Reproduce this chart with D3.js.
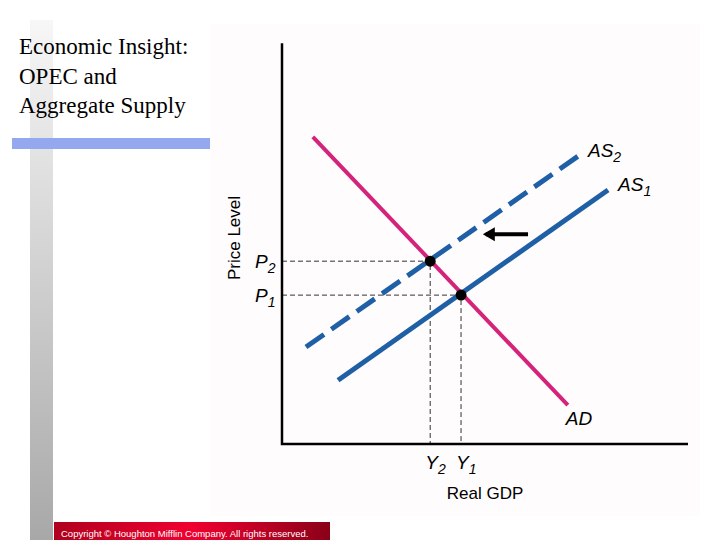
<!DOCTYPE html>
<html><head><meta charset="utf-8">
<script src="https://cdn.jsdelivr.net/npm/d3@7"></script>
<style>body{margin:0;background:#fff}</style>
</head><body>
<svg id="c" width="720" height="540"></svg>
<script>
// curves in chart units (0..100 on both axes)
var adLine = [[7.6, 75.1], [70.4, 9.5]];
var as1Line = [[13.8, 15.6], [80.3, 62.1]];
var as2Line = [[5.9, 23.7], [73.4, 70.7]];
var equilibria = [
  {name: "2", x: 36.5, y: 44.7},
  {name: "1", x: 44.1, y: 36.4}
];
var shiftArrow = [[60.6, 51.3], [50.2, 51.3]];
var titleLines = ["Economic Insight:", "OPEC and", "Aggregate Supply"];

var svg = d3.select("#c");
var defs = svg.append("defs");
var g1 = defs.append("linearGradient").attr("id", "gray").attr("x1", 0).attr("y1", 0).attr("x2", 0).attr("y2", 1);
g1.append("stop").attr("offset", 0).attr("stop-color", "#f7f7f7");
g1.append("stop").attr("offset", 1).attr("stop-color", "#a8a8a8");
var g2 = defs.append("linearGradient").attr("id", "red");
g2.append("stop").attr("offset", 0).attr("stop-color", "#b0001e");
g2.append("stop").attr("offset", 0.5).attr("stop-color", "#f00030");
g2.append("stop").attr("offset", 1).attr("stop-color", "#8a0018");

// slide decoration
svg.append("rect").attr("x", 30).attr("y", 20).attr("width", 23).attr("height", 520).attr("fill", "url(#gray)");
svg.append("rect").attr("x", 210).attr("y", 24).attr("width", 490).attr("height", 492).attr("fill", "#fffcfd");
svg.append("rect").attr("x", 12).attr("y", 138).attr("width", 198).attr("height", 11).attr("fill", "#94a8f0");
svg.append("rect").attr("x", 54).attr("y", 522).attr("width", 276).attr("height", 18).attr("fill", "url(#red)");
svg.append("text").attr("x", 61).attr("y", 537).attr("fill", "#fff")
  .style("font", "9.5px 'Liberation Sans', Arial, sans-serif")
  .text("Copyright © Houghton Mifflin Company. All rights reserved.");

svg.selectAll(".title").data(titleLines).enter().append("text")
  .attr("x", 19).attr("y", function(d, i) { return 54 + i * 29.5; })
  .style("font", "23px 'Liberation Serif', 'Times New Roman', serif")
  .attr("fill", "#000").text(function(d) { return d; });

var x = d3.scaleLinear().domain([0, 100]).range([282, 688]);
var y = d3.scaleLinear().domain([0, 100]).range([444, 35]);
var line = d3.line().x(function(d) { return x(d[0]); }).y(function(d) { return y(d[1]); });
var sans = "'Liberation Sans', Arial, sans-serif";

// guides
equilibria.forEach(function(p) {
  svg.append("path")
    .attr("d", "M" + x(0) + "," + y(p.y) + "H" + x(p.x) + "V" + y(0))
    .attr("fill", "none").attr("stroke", "#333").attr("stroke-width", 1).attr("stroke-dasharray", "5,3");
});

svg.append("path").attr("d", line(as2Line)).attr("fill", "none")
  .attr("stroke", "#1f5fa6").attr("stroke-width", 5).attr("stroke-dasharray", "22,9");
svg.append("path").attr("d", line(as1Line)).attr("fill", "none")
  .attr("stroke", "#1f5fa6").attr("stroke-width", 5);
svg.append("path").attr("d", line(adLine)).attr("fill", "none")
  .attr("stroke", "#d4237a").attr("stroke-width", 4);

// axes
svg.append("path").attr("d", "M" + x(0) + "," + y(98) + "V" + y(0) + "H" + x(100))
  .attr("fill", "none").attr("stroke", "#000").attr("stroke-width", 2.5);

svg.selectAll(".dot").data(equilibria).enter().append("circle")
  .attr("cx", function(d) { return x(d.x); }).attr("cy", function(d) { return y(d.y); })
  .attr("r", 5.5).attr("fill", "#000");

// arrow
svg.append("path").attr("d", line(shiftArrow)).attr("stroke", "#000").attr("stroke-width", 4);
var ax = x(shiftArrow[1][0]), ay = y(shiftArrow[1][1]);
svg.append("path").attr("d", "M" + (ax - 3) + "," + ay + "l12,-7v14z").attr("fill", "#000");

function label(px, py, main, sub, anchor) {
  var t = svg.append("text").attr("x", px).attr("y", py).attr("text-anchor", anchor || "start")
    .style("font", "italic 19px " + sans).attr("fill", "#000");
  t.append("tspan").text(main);
  if (sub) t.append("tspan").attr("dy", 5).style("font-size", "14px").text(sub);
}
label(x(as2Line[1][0]) + 8, y(as2Line[1][1]) + 2, "AS", "2");
label(x(as1Line[1][0]) + 10, y(as1Line[1][1]) + 1, "AS", "1");
label(x(adLine[1][0]) - 2, y(adLine[1][1]) + 20, "AD");
equilibria.forEach(function(p) {
  label(x(0) - 27, y(p.y) + 7, "P", p.name);
  label(x(p.x) - 5, y(0) + 25, "Y", p.name);
});
svg.append("text").attr("x", 485).attr("y", 499).attr("text-anchor", "middle")
  .style("font", "17px " + sans).text("Real GDP");
svg.append("text").attr("transform", "translate(240,238) rotate(-90)").attr("text-anchor", "middle")
  .style("font", "17px " + sans).text("Price Level");
</script>
</body></html>
